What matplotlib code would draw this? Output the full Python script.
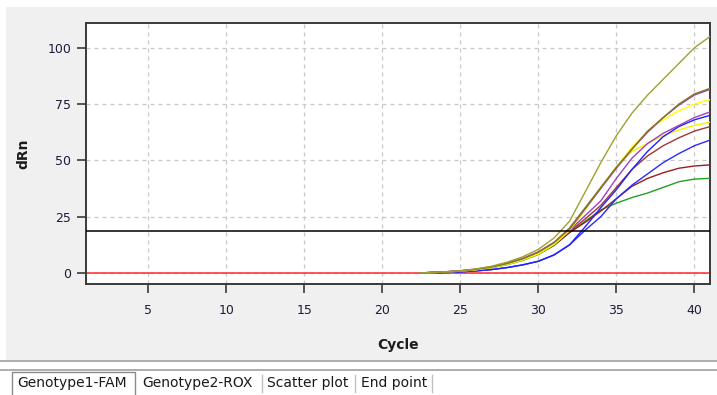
import matplotlib.pyplot as plt
from matplotlib.patches import Rectangle
from matplotlib.lines import Line2D

# amplification curves (dRn per cycle)
cycles = [22.5, 23, 24, 25, 26, 27, 28, 29, 30, 31, 32, 33, 34, 35, 36, 37, 38, 39, 40, 41]

olive = [0, 0.2, 0.5, 1.0, 1.8, 3.0, 4.8, 7.2, 10.5, 15.5, 23, 36, 49, 61, 71, 79, 86, 93, 100, 105]
dark_olive = [0, 0.2, 0.4, 0.9, 1.6, 2.6, 4.2, 6.3, 9.2, 13.5, 20, 29, 38, 47, 55, 63, 69, 75, 79.5, 82]
purple_hi = [0, 0.2, 0.5, 1.0, 1.7, 2.8, 4.4, 6.5, 9.4, 13.6, 19.5, 28.5, 37.5, 46.5, 55, 62.5, 69, 74.5, 79, 81.5]
yellow_hi = [0, 0.1, 0.4, 0.8, 1.4, 2.4, 3.9, 5.9, 8.6, 12.8, 19, 28, 38, 47, 56, 63, 68, 72, 75, 77]
purple_lo = [0, 0.1, 0.4, 0.8, 1.5, 2.5, 4.0, 6.0, 8.8, 13, 19, 25.5, 32, 42, 51, 57.5, 62, 65.5, 69, 71.5]
blue_hi = [0, 0, 0.2, 0.5, 0.9, 1.5, 2.4, 3.6, 5.2, 8.0, 12.5, 20.5, 29, 37, 46, 54, 60.5, 65, 68, 70]
yellow_lo = [0, 0.1, 0.4, 0.8, 1.4, 2.4, 3.8, 5.8, 8.4, 12.6, 18.8, 28, 38, 47, 54, 57.5, 61, 63.5, 65.5, 67]
brown = [0, 0.2, 0.5, 0.9, 1.6, 2.6, 4.0, 6.0, 8.6, 12.5, 18.5, 24, 30, 38, 46, 52, 56.5, 60, 63, 65]
blue_lo = [0, 0, 0.2, 0.5, 0.9, 1.5, 2.4, 3.6, 5.2, 8.0, 12.5, 19, 25, 33, 39, 44, 49, 53, 56.5, 59]
dark_red = [0, 0.2, 0.5, 0.9, 1.6, 2.6, 4.0, 6.0, 8.5, 12.3, 18, 22.5, 27.5, 33, 38.5, 42, 44.5, 46.5, 47.5, 48]
green = [0, 0.1, 0.4, 0.8, 1.4, 2.3, 3.7, 5.6, 8.2, 12.2, 18, 23, 28, 31, 33.5, 35.5, 38, 40.5, 41.7, 42]

threshold = 18.7
x_ticks = [5, 10, 15, 20, 25, 30, 35, 40]
y_ticks = [0, 25, 50, 75, 100]
tabs = ["Genotype1-FAM", "Genotype2-ROX", "Scatter plot", "End point"]

series = [
    (green, "#22a022"),
    (dark_red, "#9c1c1c"),
    (blue_lo, "#2a2aff"),
    (brown, "#a33535"),
    (yellow_lo, "#f2f200"),
    (blue_hi, "#2020ff"),
    (purple_lo, "#a040c0"),
    (yellow_hi, "#ffff00"),
    (purple_hi, "#a040c0"),
    (dark_olive, "#7f7a1c"),
    (olive, "#a0a030"),
]

W, H = 717, 395
fig = plt.figure(figsize=(W / 100, H / 100), dpi=100, facecolor="white")

# grey panel behind the chart and the separator above the tab strip
fig.patches.append(Rectangle((6 / W, (H - 360) / H), 1 - 6 / W, 353 / H,
                             transform=fig.transFigure, facecolor="#f0f0f0",
                             edgecolor="none", zorder=-5))
for yy in [361, 370]:
    fig.add_artist(Line2D([0, 1], [(H - yy) / H] * 2, transform=fig.transFigure,
                          color="#a0a0a0", lw=1.2))

ax = fig.add_axes([86 / W, (H - 284) / H, 624 / W, 261 / H])
ax.set_facecolor("white")

for vals, col in series:
    ax.plot(cycles, vals, color=col, lw=1.0, zorder=3)

ax.axhline(threshold, color="black", lw=1.1, zorder=4)
ax.axhline(0, color="#ff2a2a", lw=1.1, zorder=2)

ax.set_xlim(1, 41)
ax.set_ylim(-4.9, 111)
ax.set_xticks(x_ticks)
ax.set_yticks(y_ticks)
ax.grid(True, color="#c8c8c8", ls=(0, (3.2, 3.2)), lw=0.9, zorder=0)
for s in ax.spines.values():
    s.set_color("#3a3a3a")
    s.set_linewidth(1.4)
ax.tick_params(direction="out", length=6.5, width=1.2, color="#3a3a3a",
               labelsize=9, labelcolor="#1c1c3c")
ax.tick_params(axis="y", pad=4)
ax.tick_params(axis="x", pad=8)

ax.set_xlabel("Cycle", fontsize=10, fontweight="bold", color="#1c1c1c", labelpad=15)
ax.set_ylabel("dRn", fontsize=10, fontweight="bold", color="#1c1c1c", labelpad=12)

# tab strip at the bottom
tab_x = [17, 142, 267, 361]
for t, x in zip(tabs, tab_x):
    fig.text(x / W, (H - 383) / H, t, fontsize=10, color="#1a1a1a", va="center", ha="left")
fig.add_artist(Rectangle((12 / W, -0.01), 123 / W, (H - 372) / H + 0.01,
                         transform=fig.transFigure, fill=False, edgecolor="#8a8a8a", lw=1.0))
for x in [262, 355, 432]:
    fig.add_artist(Line2D([x / W, x / W], [(H - 392) / H, (H - 375) / H],
                          transform=fig.transFigure, color="#c0c0c0", lw=1.0))

fig.savefig("out.png", dpi=100, facecolor=fig.get_facecolor())
